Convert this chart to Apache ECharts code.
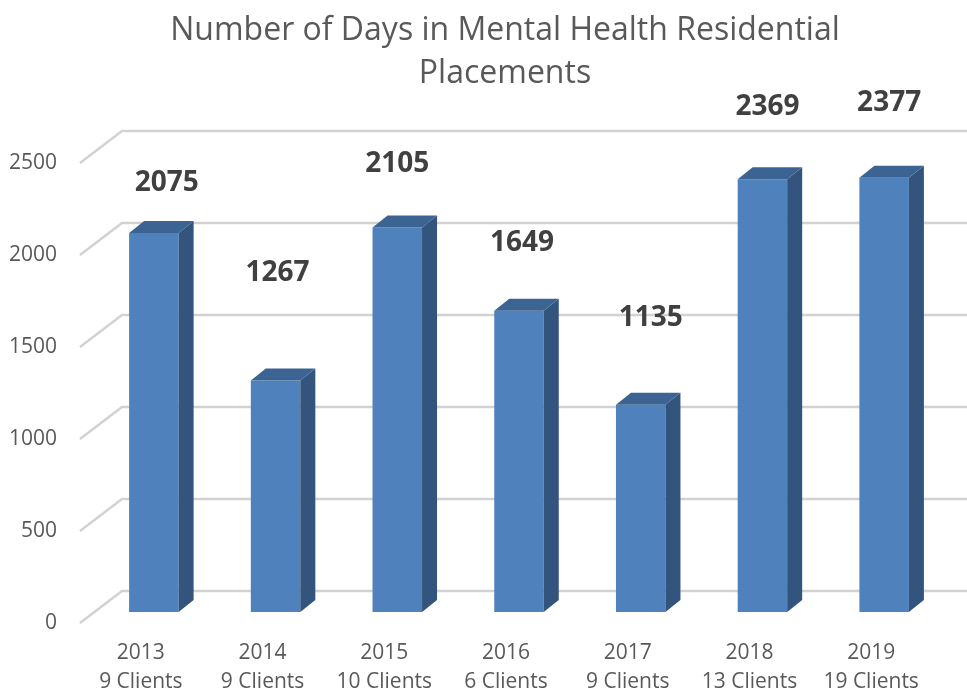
<!DOCTYPE html>
<html><head><meta charset="utf-8">
<script src="https://cdn.jsdelivr.net/npm/echarts@6/dist/echarts.min.js"></script>
<style>html,body{margin:0;padding:0;background:#fff}#c{width:967px;height:692px}</style>
</head><body><div id="c"></div>
<script>
// ---- data ----
const years = ['2013','2014','2015','2016','2017','2018','2019'];
const clients = ['9 Clients','9 Clients','10 Clients','6 Clients','9 Clients','13 Clients','19 Clients'];
const days = [2075, 1267, 2105, 1649, 1135, 2369, 2377];
const yTicks = [0, 500, 1000, 1500, 2000, 2500];
// ---- label layout (style only) ----
const labelLift = [50, 108, 64, 68, 87, 72, 75];
const labelShift = [13, 2, 0, 3, 10, 5, 5];

const FONT = '"Open Sans", "Noto Sans", sans-serif';
const categories = years.map((y, i) => y + '\n' + clients[i]);

function renderGrid(params, api) {
  const v = api.value(1);
  const p = api.coord([0, v]);
  const cs = params.coordSys;
  const x0 = cs.x, y = p[1];
  return {
    type: 'polyline',
    shape: { points: [[x0, y], [x0 + 42, y - 32], [x0 + 42 + cs.width + 20, y - 32]] },
    style: { stroke: '#d2d2d2', lineWidth: 2.5, fill: null }
  };
}

function renderBar(params, api) {
  const i = api.value(0), v = api.value(1);
  const top = api.coord([i, v]), base = api.coord([i, 0]);
  const k = 0.9926;
  const cx = top[0] + 13;
  const yb = base[1] - 11;
  const yt = yb - (base[1] - top[1]) * k;
  const w = 49.5, x0 = cx - w / 2, x1 = cx + w / 2;
  const dx = 15, dy = 12;
  return {
    type: 'group',
    children: [
      { type: 'rect', shape: { x: x0, y: yt, width: w, height: yb - yt }, style: { fill: '#4f81bd' } },
      { type: 'polygon', shape: { points: [[x1, yt], [x1 + dx, yt - dy], [x1 + dx, yb - dy], [x1, yb]] }, style: { fill: '#32547d' } },
      { type: 'polygon', shape: { points: [[x0, yt], [x0 + dx, yt - dy], [x1 + dx, yt - dy], [x1, yt]] }, style: { fill: '#3c6493' } },
      { type: 'text', style: { text: String(v), x: cx + labelShift[i], y: yt - labelLift[i], align: 'center', verticalAlign: 'middle',
        fontSize: 28, fontWeight: 'bold', fontFamily: FONT, fill: '#404040' } }
    ]
  };
}

const chart = echarts.init(document.getElementById('c'), null, { renderer: 'canvas' });
chart.setOption({
  backgroundColor: '#ffffff',
  animation: false,
  title: {
    text: 'Number of Days in Mental Health Residential\nPlacements',
    left: 500, top: 4, textAlign: 'center',
    textStyle: { fontFamily: FONT, fontSize: 32, fontWeight: 'normal', color: '#595959', lineHeight: 43 }
  },
  grid: { left: 80, right: 35, top: 163, bottom: 69, containLabel: false, outerBoundsMode: 'none' },
  xAxis: {
    type: 'category', data: categories,
    axisLine: { show: false }, axisTick: { show: false }, splitLine: { show: false },
    axisLabel: { fontFamily: FONT, fontSize: 21, color: '#595959', lineHeight: 29, margin: 16, interval: 0 }
  },
  yAxis: {
    type: 'value', min: 0, max: 2500, interval: 500,
    axisLine: { show: false }, axisTick: { show: false }, splitLine: { show: false },
    axisLabel: { fontFamily: FONT, fontSize: 21, color: '#595959', margin: 23, formatter: v => String(v) }
  },
  series: [
    { type: 'custom', renderItem: renderGrid, data: yTicks.map(v => [0, v]), encode: { x: 0, y: 1 }, clip: false, z: 1, silent: true },
    { type: 'custom', renderItem: renderBar, data: days.map((v, i) => [i, v]), encode: { x: 0, y: 1 }, clip: false, z: 2 }
  ]
});
</script></body></html>
